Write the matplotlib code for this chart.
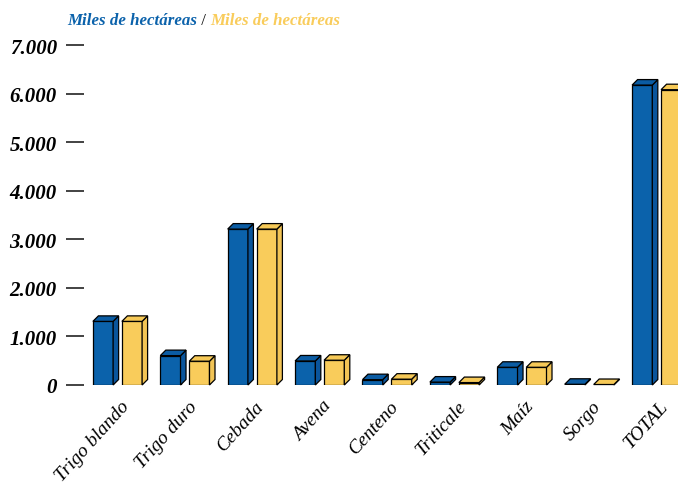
import matplotlib
matplotlib.use('Agg')
import matplotlib.pyplot as plt
import matplotlib.transforms as mtransforms
from matplotlib.patches import Polygon
import numpy as np

categories = ['Trigo blando', 'Trigo duro', 'Cebada', 'Avena', 'Centeno',
              'Triticale', 'Maíz', 'Sorgo', 'TOTAL']
serieA = [1310, 605, 3210, 495, 110, 60, 365, 15, 6175]
serieB = [1310, 490, 3210, 510, 120, 50, 365, 10, 6080]
yTicks = [0, 1000, 2000, 3000, 4000, 5000, 6000, 7000]
yLabels = ['0', '1.000', '2.000', '3.000', '4.000', '5.000', '6.000', '7.000']
titleText = 'Miles de hectáreas'

blue = '#0B62AB'
blueSide = '#0A559C'
blueTop = '#0B5CA3'
yellow = '#F9CC5B'
yellowSide = '#F2C455'
yellowTop = '#F6C957'
serif = 'Liberation Serif'

W, H, dpi = 678, 485, 100
fig = plt.figure(figsize=(W/dpi, H/dpi), dpi=dpi)
ax = fig.add_axes([84/W, (H-386)/H, (W-84)/W, 340/H])
ax.set_xlim(-0.497, 8.316)
ax.set_ylim(0, 7000)

barW = 0.30
offs = 0.215
depth = 5.5  # pixels

x = np.arange(len(categories))

def draw_box(xc, h, front, side, top):
    x0, x1 = xc - barW/2, xc + barW/2
    ax.bar(xc, h, width=barW, color=front, edgecolor='black', linewidth=0.9, zorder=3)
    p = ax.transData.transform([(x0, 0), (x1, 0), (x0, h), (x1, h)])
    (bl, br, tl, tr) = p
    d = np.array([depth, depth])
    sidePts = [br, br + d, tr + d, tr]
    topPts = [tl, tr, tr + d, tl + d]
    for pts, c in ((sidePts, side), (topPts, top)):
        poly = Polygon(pts, closed=True, facecolor=c, edgecolor='black', linewidth=0.9,
                       transform=None, zorder=2, clip_on=False)
        fig.patches.append(poly)

for i in range(len(categories)):
    draw_box(x[i] - offs, serieA[i], blue, blueSide, blueTop)
    draw_box(x[i] + offs, serieB[i], yellow, yellowSide, yellowTop)

for s in ax.spines.values():
    s.set_visible(False)

ax.set_yticks(yTicks)
ax.set_yticklabels(yLabels, fontfamily=serif, fontweight='bold', fontstyle='italic', fontsize=15)
ax.tick_params(axis='y', direction='out', length=13, width=1.2, pad=6.5, color='#222222')

ax.set_xticks(x)
ax.set_xticklabels(categories, fontfamily=serif, fontstyle='italic', fontsize=14,
                   rotation=48, ha='right', rotation_mode='anchor')
ax.tick_params(axis='x', length=0, pad=9)
shift = mtransforms.ScaledTranslation(2/72, 0, fig.dpi_scale_trans)
for lab in ax.get_xticklabels():
    lab.set_transform(lab.get_transform() + shift)

t1 = fig.text(67/W, (H-25)/H, titleText, color='#0B62AB', fontfamily=serif,
              fontweight='bold', fontstyle='italic', fontsize=12.2, va='baseline')
t2 = ax.annotate(' / ', xy=(1, 0), xycoords=t1, va='bottom', color='#111111',
                 fontfamily=serif, fontsize=12.2)
t3 = ax.annotate(titleText, xy=(1, 0), xycoords=t2, va='bottom', color='#F9CC5B',
                 fontfamily=serif, fontweight='bold', fontstyle='italic', fontsize=12.2)

fig.savefig('out.png', dpi=dpi)
